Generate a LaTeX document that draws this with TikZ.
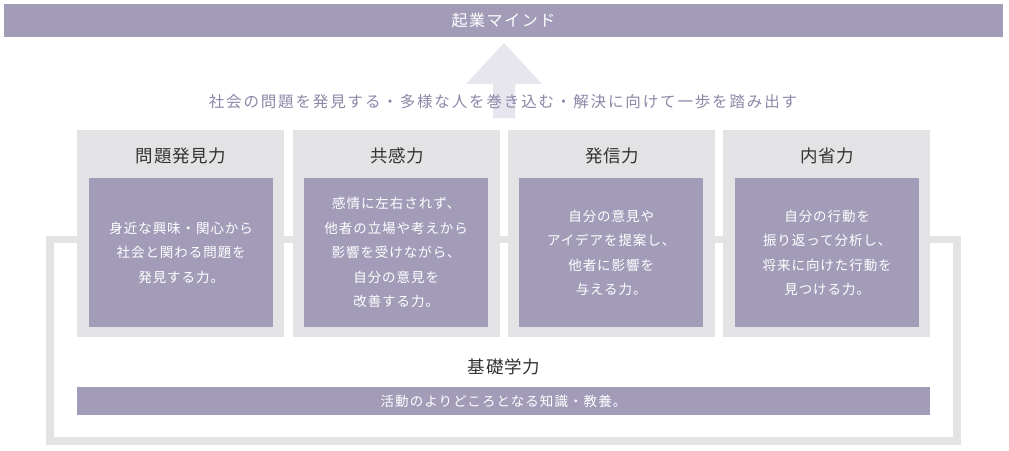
\documentclass[tikz,border=0pt]{standalone}
\usepackage{fontspec}
\setmainfont{Noto Sans CJK JP}
\definecolor{lav}{HTML}{A39CB9}
\definecolor{lgray}{HTML}{E3E3E5}
\definecolor{arrowc}{HTML}{E7E6EF}
\definecolor{subc}{HTML}{8C87A8}
\definecolor{darkt}{HTML}{333333}
\begin{document}
\begin{tikzpicture}[x=1pt,y=-1pt,
  graybox/.style={fill=lgray,draw=none,minimum width=207pt,minimum height=207pt,inner sep=0pt,anchor=north west},
  lavbox/.style={fill=lav,draw=none,minimum width=184pt,minimum height=149pt,inner sep=0pt,anchor=north west,
     text=white,align=center,font=\fontsize{13.5}{24.5}\selectfont\addfontfeatures{LetterSpace=7}},
  titletext/.style={text=darkt,font=\fontsize{17.5}{19}\selectfont\addfontfeatures{LetterSpace=4},inner sep=0pt}
]
\useasboundingbox (0,0) rectangle (1009,450);
\fill[white] (0,0) rectangle (1009,450);
% header bar
\node[fill=lav,minimum width=999pt,minimum height=33pt,inner sep=0pt,text=white,
  font=\fontsize{16}{18}\selectfont\addfontfeatures{LetterSpace=10}] (mind) at (503.5,20.5) {起業マインド};
% block arrow
\fill[arrowc] (493,118) -- (493,84) -- (466,84) -- (504,43) -- (542,84) -- (515,84) -- (515,118) -- cycle;
% subtitle
\node[text=subc,inner sep=0pt,font=\fontsize{15.5}{17}\selectfont\addfontfeatures{LetterSpace=12}] (sub) at (503,102)
  {社会の問題を発見する・多様な人を巻き込む・解決に向けて一歩を踏み出す};
% frame
\fill[lgray] (46,236) rectangle (961,445);
\fill[white] (54,243) rectangle (953,437);
% gray boxes
\node[graybox] (g1) at (77,130) {};
\node[graybox] (g2) at (293,130) {};
\node[graybox] (g3) at (508,130) {};
\node[graybox] (g4) at (723,130) {};
% titles
\node[titletext] (t1) at (181,156) {問題発見力};
\node[titletext] (t2) at (397,156) {共感力};
\node[titletext] (t3) at (612,156) {発信力};
\node[titletext] (t4) at (827,156) {内省力};
% purple boxes
\node[lavbox] (b1) at (89,178) {身近な興味・関心から\\社会と関わる問題を\\発見する力。};
\node[lavbox] (b2) at (304,178) {感情に左右されず、\\他者の立場や考えから\\影響を受けながら、\\自分の意見を\\改善する力。};
\node[lavbox] (b3) at (519,178) {自分の意見や\\アイデアを提案し、\\他者に影響を\\与える力。};
\node[lavbox] (b4) at (735,178) {自分の行動を\\振り返って分析し、\\将来に向けた行動を\\見つける力。};
% basic
\node[titletext] (kiso) at (504,367) {基礎学力};
\node[fill=lav,minimum width=853pt,minimum height=28pt,inner sep=0pt,text=white,
  font=\fontsize{13.5}{15}\selectfont\addfontfeatures{LetterSpace=8}] (kbar) at (503.5,401) {活動のよりどころとなる知識・教養。};
\end{tikzpicture}
\end{document}
